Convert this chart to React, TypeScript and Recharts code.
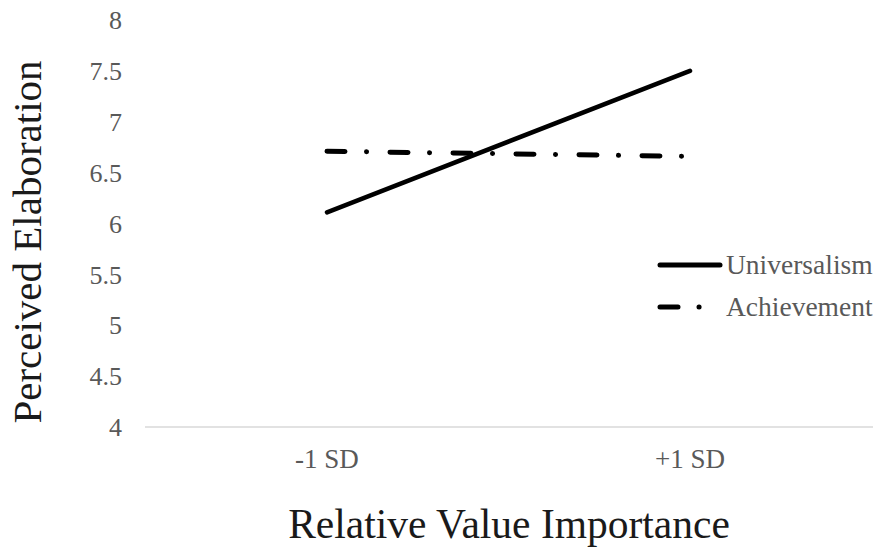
import React from 'react';
import { LineChart, Line, XAxis, YAxis } from 'recharts';

const categories = ['-1 SD', '+1 SD'];
const universalism = [6.11, 7.5];
const achievement = [6.71, 6.66];
const yTicks = [4, 4.5, 5, 5.5, 6, 6.5, 7, 7.5, 8];
const seriesNames = ['Universalism', 'Achievement'];

const data = categories.map((c, i) => ({
  cat: c,
  Universalism: universalism[i],
  Achievement: achievement[i],
}));

const FONT = '"Liberation Serif", "Times New Roman", serif';
const DASH = '18 21.5 0.1 23.4';

const LegendBox = () => (
  <div
    style={{
      position: 'absolute',
      left: 656,
      top: 244,
      width: 220,
      fontFamily: FONT,
      fontSize: 27.5,
      color: '#595959',
    }}
  >
    {seriesNames.map((n, i) => (
      <div key={n} style={{ display: 'flex', alignItems: 'center', height: 42 }}>
        <svg width={68} height={10} style={{ marginRight: 2 }}>
          <line
            x1={4}
            x2={64}
            y1={5}
            y2={5}
            stroke="#000"
            strokeWidth={5}
            strokeLinecap="round"
            strokeDasharray={i === 1 ? '18 21 0.1 100' : undefined}
          />
        </svg>
        <span>{n}</span>
      </div>
    ))}
  </div>
);

export default function App() {
  return (
    <div style={{ position: 'fixed', left: 0, top: 0, width: 875, height: 547, background: '#fff' }}>
      <LineChart width={875} height={547} data={data} margin={{ top: 20, right: 2, bottom: 0, left: 0 }}>
        <XAxis
          dataKey="cat"
          height={120}
          padding={{ left: 182, right: 183 }}
          axisLine={{ stroke: '#d9d9d9', strokeWidth: 1.5 }}
          tickLine={false}
          tickSize={0}
          tickMargin={22}
          tick={{ fill: '#595959', fontSize: 27, fontFamily: FONT }}
          label={{
            content: (props: any) => {
              const vb = props.viewBox || {};
              return (
                <text
                  x={vb.x + vb.width / 2}
                  y={538}
                  textAnchor="middle"
                  fill="#1a1a1a"
                  fontSize={41.5}
                  fontFamily={FONT}
                >
                  Relative Value Importance
                </text>
              );
            },
          }}
        />
        <YAxis
          width={145}
          domain={[4, 8]}
          ticks={yTicks}
          axisLine={false}
          tickLine={false}
          tickSize={0}
          tickMargin={23}
          tick={{ fill: '#595959', fontSize: 26, fontFamily: FONT }}
          label={{
            content: () => (
              <text
                x={41}
                y={242}
                transform="rotate(-90 41 242)"
                textAnchor="middle"
                fill="#1a1a1a"
                fontSize={41}
                fontFamily={FONT}
              >
                Perceived Elaboration
              </text>
            ),
          }}
        />
        <Line
          dataKey="Universalism"
          stroke="#000"
          strokeWidth={4.5}
          strokeLinecap="round"
          dot={false}
          activeDot={false}
          isAnimationActive={false}
        />
        <Line
          dataKey="Achievement"
          stroke="#000"
          strokeWidth={5}
          strokeLinecap="round"
          strokeDasharray={DASH}
          dot={false}
          activeDot={false}
          isAnimationActive={false}
        />
      </LineChart>
      <LegendBox />
    </div>
  );
}
